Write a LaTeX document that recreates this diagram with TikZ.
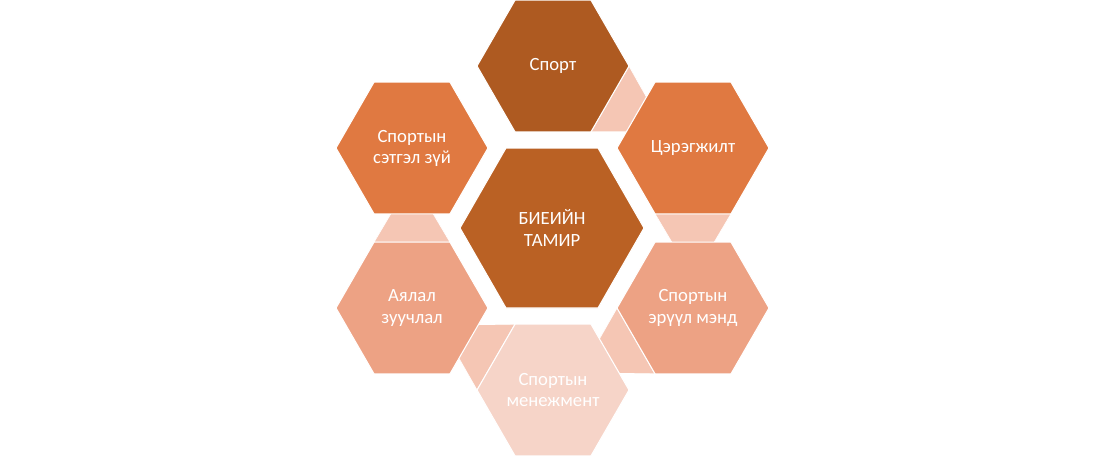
\documentclass[tikz,border=0pt]{standalone}
\usepackage{fontspec}
\setmainfont{Carlito}
\definecolor{cDark}{HTML}{AE5A21}
\definecolor{cCenter}{HTML}{BA6124}
\definecolor{cOrange}{HTML}{E07941}
\definecolor{cSalmon}{HTML}{EDA284}
\definecolor{cPale}{HTML}{F6D4C8}
\definecolor{cLink}{HTML}{F5C6B4}
\begin{document}
\begin{tikzpicture}[x=0.75pt,y=-0.75pt,
  hexshape/.style={draw=white,line width=0.8pt,line join=miter},
  linkshape/.style={fill=cLink,draw=white,line width=0.5pt},
  lbl/.style={text=white,align=center,font=\fontsize{14}{15.8}\selectfont,inner sep=0pt}]
\useasboundingbox (0,0) rectangle (1104,457);
% centres
\coordinate (cC) at (552,228);
\coordinate (c1) at (553,66);
\coordinate (c2) at (693,148);
\coordinate (c3) at (693,308);
\coordinate (c4) at (553,390);
\coordinate (c5) at (412,308);
\coordinate (c6) at (412,148);
% connecting triangles (behind)
\path[linkshape] (c1) +(76,0) -- +(38,65.8) -- +(113,65.8) -- cycle;
\path[linkshape] (c2) +(38,65.8) -- +(-38,65.8) -- +(0,130) -- cycle;
\path[linkshape] (c3) +(-38,65.8) -- +(-76,0) -- +(-113,65) -- cycle;
\path[linkshape] (c4) +(-76,0) -- +(-38,-65.8) -- +(-113,-65) -- cycle;
\path[linkshape] (c5) +(-38,-65.8) -- +(38,-65.8) -- +(0,-130) -- cycle;
% hexagons
\path[hexshape,fill=cCenter] (cC) +(-92,0) -- +(-46,-80) -- +(46,-80) -- +(92,0) -- +(46,80) -- +(-46,80) -- cycle;
\path[hexshape,fill=cDark] (c1) +(-76,0) -- +(-38,-65.8) -- +(38,-65.8) -- +(76,0) -- +(38,65.8) -- +(-38,65.8) -- cycle;
\path[hexshape,fill=cOrange] (c2) +(-76,0) -- +(-38,-65.8) -- +(38,-65.8) -- +(76,0) -- +(38,65.8) -- +(-38,65.8) -- cycle;
\path[hexshape,fill=cSalmon] (c3) +(-76,0) -- +(-38,-65.8) -- +(38,-65.8) -- +(76,0) -- +(38,65.8) -- +(-38,65.8) -- cycle;
\path[hexshape,fill=cPale] (c4) +(-76,0) -- +(-38,-65.8) -- +(38,-65.8) -- +(76,0) -- +(38,65.8) -- +(-38,65.8) -- cycle;
\path[hexshape,fill=cSalmon] (c5) +(-76,0) -- +(-38,-65.8) -- +(38,-65.8) -- +(76,0) -- +(38,65.8) -- +(-38,65.8) -- cycle;
\path[hexshape,fill=cOrange] (c6) +(-76,0) -- +(-38,-65.8) -- +(38,-65.8) -- +(76,0) -- +(38,65.8) -- +(-38,65.8) -- cycle;
% labels
\node[lbl] (tC) at (cC) {БИЕИЙН\\ТАМИР};
\node[lbl] (t1) at (c1) {Спорт};
\node[lbl] (t2) at (c2) {Цэрэгжилт};
\node[lbl] (t3) at (c3) {Спортын\\эрүүл мэнд};
\node[lbl] (t4) at (c4) {Спортын\\менежмент};
\node[lbl] (t5) at (c5) {Аялал\\зуучлал};
\node[lbl] (t6) at (c6) {Спортын\\сэтгэл зүй};
\end{tikzpicture}
\end{document}
